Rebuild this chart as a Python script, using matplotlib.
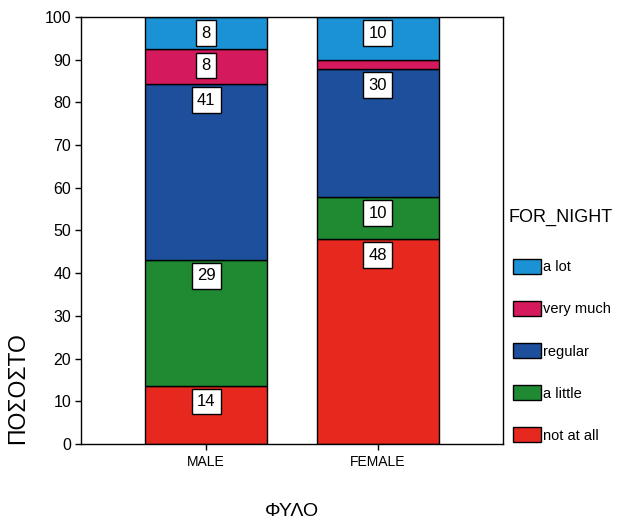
import matplotlib
matplotlib.use("Agg")
import matplotlib.pyplot as plt
import numpy as np

categories = ['MALE', 'FEMALE']
levels = ['not at all', 'a little', 'regular', 'very much', 'a lot']
not_at_all = [13.7, 48.0]
a_little = [29.4, 9.8]
regular = [41.2, 30.0]
very_much = [8.1, 2.1]
a_lot = [7.6, 10.1]
yticks = [0, 10, 20, 30, 40, 50, 60, 70, 80, 90, 100]

series = [not_at_all, a_little, regular, very_much, a_lot]
colors = ['#e6281f', '#1f8a32', '#1e4f9c', '#d41a5c', '#1b92d6']

plt.rcParams['font.family'] = ['Liberation Sans', 'DejaVu Sans']

W, H = 618, 520
fig = plt.figure(figsize=(W / 100, H / 100), dpi=100)
ax = fig.add_axes([81 / W, (H - 444) / H, (503 - 81) / W, (444 - 17) / H])

x = np.arange(len(categories))
bottom = np.zeros(len(categories))
handles = []
for vals, col, lev in zip(series, colors, levels):
    vals = np.array(vals)
    b = ax.bar(x, vals, width=0.71, bottom=bottom, color=col, edgecolor='black',
               linewidth=1.0, label=lev)
    handles.append(b)
    tops = bottom + vals
    for xi, v, t in zip(x, vals, tops):
        if v >= 5:
            ax.annotate(f"{int(round(v))}", xy=(xi, t), xytext=(0, -16),
                        textcoords='offset pixels', ha='center', va='center',
                        fontsize=12, color='black',
                        bbox=dict(boxstyle='square,pad=0.32', facecolor='white',
                                  edgecolor='black', linewidth=1.0))
    bottom = tops

ax.set_xlim(-0.73, 1.73)
ax.set_ylim(0, 100)
ax.set_yticks(yticks)
ax.set_xticks(x)
ax.set_xticklabels(categories, fontsize=10)
ax.tick_params(axis='y', labelsize=11.5, length=4, pad=3, width=1)
ax.tick_params(axis='x', length=4, pad=4, width=1)
for s in ax.spines.values():
    s.set_linewidth(1.0)
    s.set_color('black')

fig.text(18 / W, (H - 388) / H, 'ΠΟΣΟΣΤΟ', rotation=90, ha='center', va='center',
         fontsize=16.5)
fig.text(292 / W, (H - 511) / H, 'ΦΥΛΟ', ha='center', va='center', fontsize=14)

fig.text(509 / W, (H - 217) / H, 'FOR_NIGHT', ha='left', va='center', fontsize=13)
leg = fig.legend(handles[::-1], levels[::-1], loc='upper left',
                 bbox_to_anchor=(513 / W, (H - 259) / H), frameon=False,
                 fontsize=10.5, handlelength=1.95, handleheight=1.2,
                 handletextpad=0.1, labelspacing=1.83, borderpad=0, borderaxespad=0)

fig.savefig('out.png', dpi=100)
